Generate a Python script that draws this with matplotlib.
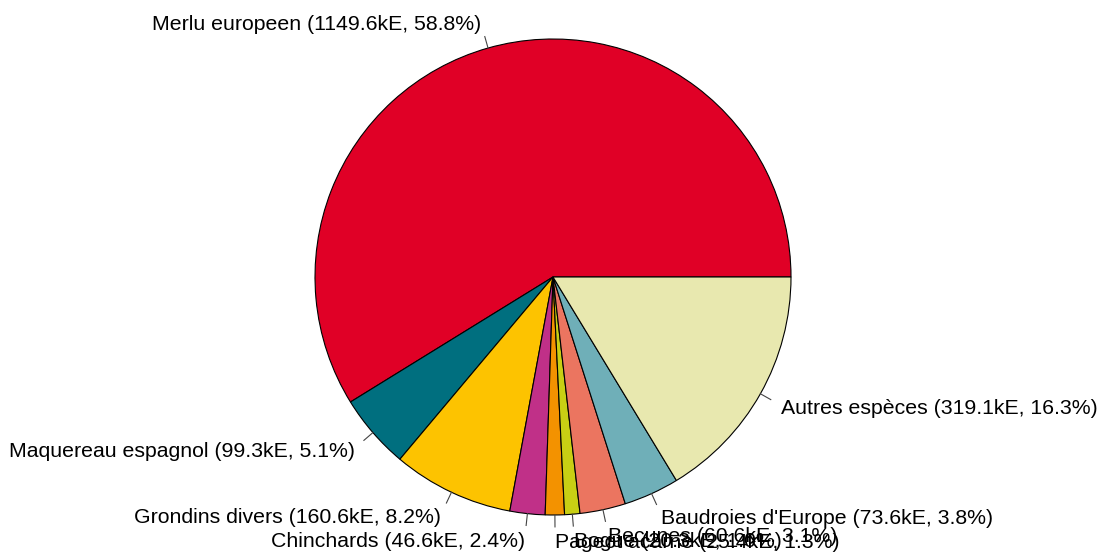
import numpy as np
import matplotlib.pyplot as plt

species = ["Merlu europeen", "Maquereau espagnol", "Grondins divers", "Chinchards",
           "Pageot acarne", "Bogue", "Becunes", "Baudroies d'Europe", "Autres espèces"]
values_ke = [1149.6, 99.3, 160.6, 46.6, 25.4, 20.3, 60.6, 73.6, 319.1]
percents = [58.8, 5.1, 8.2, 2.4, 1.3, 1.0, 3.1, 3.8, 16.3]
colors = ["#E00026", "#006F7F", "#FDC300", "#C03088", "#F39200",
          "#C8CF14", "#EB7560", "#6FAFB8", "#E8E8AF"]

labels = [f"{s} ({v}kE, {p}%)" for s, v, p in zip(species, values_ke, percents)]

W, H = 1107, 554
fig = plt.figure(figsize=(W / 100, H / 100), dpi=100)
ax = fig.add_axes([0, 0, 1, 1])

cx, cy, r = 553, 277, 238
wedges, _ = ax.pie(values_ke, colors=colors, startangle=0, counterclock=True,
                   center=(cx, cy), radius=r, frame=True,
                   wedgeprops=dict(edgecolor="black", linewidth=0.8))
ax.set_xlim(0, W)
ax.set_ylim(0, H)
ax.set_aspect("equal")
ax.axis("off")

# R-style labels: tick from r to 1.05r, text at ~1.1r
for w, lab in zip(wedges, labels):
    ang = np.deg2rad((w.theta1 + w.theta2) / 2)
    c, s = np.cos(ang), np.sin(ang)
    ax.plot([cx + r * c, cx + 1.05 * r * c], [cy + r * s, cy + 1.05 * r * s],
            color="#444444", lw=0.8)
    ax.text(cx + 1.1 * r * c, cy + 1.11 * r * s - 1.5, lab,
            ha="left" if c > 0 else "right", va="center",
            fontsize=15.3, family="Liberation Sans")

fig.savefig("out.png", dpi=100)
